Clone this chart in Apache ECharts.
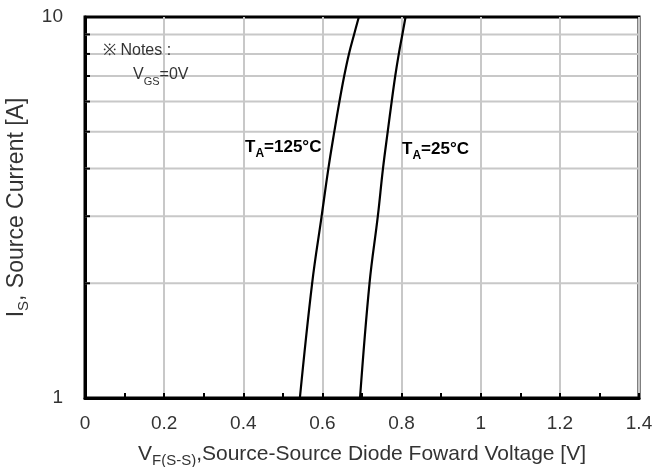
<!DOCTYPE html>
<html><head><meta charset="utf-8">
<script src="https://cdn.jsdelivr.net/npm/echarts@6/dist/echarts.min.js"></script>
<style>html,body{margin:0;padding:0;background:#fff}#c{width:653px;height:467px}</style>
</head><body><div id="c"></div>
<script>
// Source current levels (A) and the forward voltage (V) at each level
const currentLevels = [1, 2, 3, 4, 5, 6, 7, 8, 9, 10];
const vfTa125 = [0.543, 0.574, 0.598, 0.615, 0.630, 0.643, 0.655, 0.667, 0.680, 0.692];
const vfTa25 = [0.695, 0.719, 0.740, 0.753, 0.765, 0.775, 0.784, 0.793, 0.802, 0.810];
// Intermediate gridlines of the logarithmic current axis
const logGridLevels = [2, 3, 4, 5, 6, 7, 8, 9];

const FONT = 'Liberation Sans, Arial, sans-serif';
const TXT = '#333';

const pairs = (vs) => vs.map((v, i) => [v, currentLevels[i]]);

const chart = echarts.init(document.getElementById('c'), null, { renderer: 'canvas' });

const subRich = (size, subSize, lh, drop, color, weight) => ({
  m: { fontSize: size, color: color, fill: color, fontWeight: weight, fontFamily: FONT, lineHeight: lh, verticalAlign: 'bottom' },
  s: { fontSize: subSize, color: color, fill: color, fontWeight: weight, fontFamily: FONT, lineHeight: lh, verticalAlign: 'bottom', padding: [0, 0, -drop, 0] }
});

chart.setOption({
  animation: false,
  backgroundColor: '#fff',
  textStyle: { fontFamily: FONT },
  grid: {
    left: 85, right: 14, top: 17, bottom: 69,
    outerBoundsMode: 'none', containLabel: false,
    show: true, borderColor: '#000', borderWidth: 3, backgroundColor: 'transparent'
  },
  xAxis: {
    type: 'value', min: 0, max: 1.4, interval: 0.2,
    axisLine: { show: true, lineStyle: { color: '#000', width: 3 } },
    axisTick: { show: true, inside: true, length: 5, lineStyle: { color: '#000', width: 2 } },
    minorTick: { show: true, splitNumber: 2, length: 5, lineStyle: { color: '#000', width: 2 } },
    splitLine: { show: true, lineStyle: { color: '#c8c8c8', width: 2 } },
    axisLabel: {
      color: TXT, fontSize: 19, margin: 16, fontFamily: FONT,
      formatter: (v) => String(Math.round(v * 10) / 10)
    },
    name: '{m|V}{s|F(S-S)}{m|,Source-Source Diode Foward Voltage [V]}',
    nameLocation: 'middle', nameGap: 43,
    nameTextStyle: { rich: subRich(21, 15, 24, 3, TXT, 'normal') }
  },
  yAxis: {
    type: 'log', logBase: 10, min: 1, max: 10,
    axisLine: { show: true, lineStyle: { color: '#000', width: 3 } },
    axisTick: { show: false },
    splitLine: { show: false },
    axisLabel: { color: TXT, fontSize: 19, margin: 22, fontFamily: FONT },
    name: '{m|I}{s|S}{m|, Source Current [A]}',
    nameLocation: 'middle', nameGap: 47, nameRotate: 90,
    nameTextStyle: { rich: subRich(23, 15, 25, 3, TXT, 'normal') }
  },
  series: [
    {
      // log-axis gridlines and inside ticks at 2..9 A
      type: 'custom', z: 1, silent: true,
      data: logGridLevels.map((v) => [0, v]),
      renderItem: (params, api) => {
        const v = api.value(1);
        const p0 = api.coord([0, v]);
        const p1 = api.coord([1.4, v]);
        return {
          type: 'group',
          children: [
            { type: 'line', shape: { x1: p0[0], y1: p0[1], x2: p1[0], y2: p1[1] },
              style: { stroke: '#c8c8c8', lineWidth: 2 } },
            { type: 'line', shape: { x1: p0[0], y1: p0[1], x2: p0[0] + 5, y2: p0[1] },
              style: { stroke: '#000', lineWidth: 2 } }
          ]
        };
      }
    },
    {
      name: 'TA=125°C', type: 'line', z: 3, data: pairs(vfTa125),
      smooth: 0.4, showSymbol: false, silent: true,
      lineStyle: { color: '#000', width: 2.2 }
    },
    {
      name: 'TA=25°C', type: 'line', z: 3, data: pairs(vfTa25),
      smooth: 0.4, showSymbol: false, silent: true,
      lineStyle: { color: '#000', width: 2.2 }
    }
  ],
  graphic: [
    {
      type: 'text', left: 103, top: 43, z: 10,
      style: { text: '※ Notes :', fill: TXT, font: '16px ' + FONT }
    },
    {
      type: 'text', left: 133, top: 67, z: 10,
      style: { text: '{m|V}{s|GS}{m|=0V}', rich: subRich(16, 11, 19, 4, TXT, 'normal') }
    },
    {
      type: 'text', left: 245, top: 139, z: 10,
      style: { text: '{m|T}{s|A}{m|=125°C}', rich: subRich(17, 12, 20, 4, '#000', 'bold') }
    },
    {
      type: 'text', left: 402, top: 141, z: 10,
      style: { text: '{m|T}{s|A}{m|=25°C}', rich: subRich(17, 12, 20, 4, '#000', 'bold') }
    }
  ]
});
</script>
</body></html>
